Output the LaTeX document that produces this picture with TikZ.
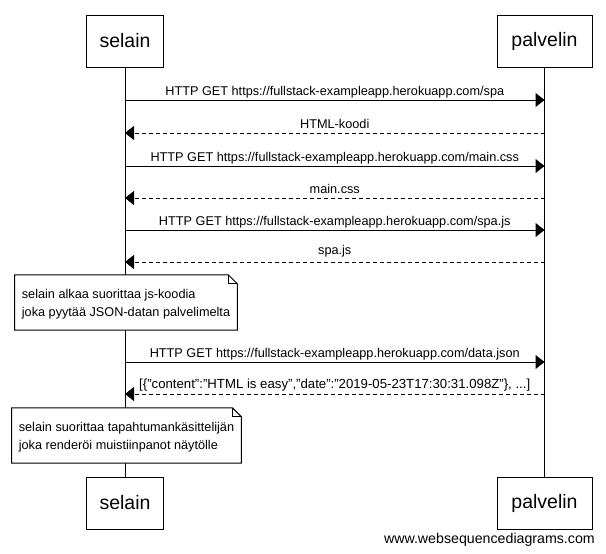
\documentclass[tikz,border=0pt]{standalone}
\usepackage{fontspec}
\setmainfont{Liberation Sans}
\usetikzlibrary{arrows.meta}

\tikzset{
  actor/.style={draw, line width=1pt, fill=white, minimum width=77pt, minimum height=52pt,
    font=\fontsize{19.5}{21}\selectfont},
  msg/.style={line width=1pt, -{Triangle[length=9pt,width=14pt]}},
  reply/.style={msg, dash pattern=on 4pt off 3pt},
  lbl/.style={font=\fontsize{12.7}{14}\selectfont, inner sep=1pt},
  notebox/.style={align=left, font=\fontsize{12.7}{18}\selectfont, inner xsep=7pt,
    minimum height=55pt, text depth=0pt},
  fold/.style={draw, line width=1pt, fill=white}
}

\begin{document}
\begin{tikzpicture}[x=1pt,y=-1pt]
    \useasboundingbox (0,0) rectangle (606,554);
    %% Draw the participants
    \node[actor] (S) at (125,41) {selain};
    \node[actor, minimum width=95pt] (P) at (544.5,41) {palvelin};
    \node[actor] (Sb) at (125,503) {selain};
    \node[actor, minimum width=95pt] (Pb) at (544.5,503) {palvelin};
    %% Draw the lifelines
    \draw[line width=1pt] (S) -- (Sb);
    \draw[line width=1pt] (P) -- (Pb);
    %% Draw the messages
    \begin{scope}[every node/.style={lbl}]
      \draw[msg] (S.south |- 0,100) -- node[above=0.5pt] {HTTP GET https://fullstack-exampleapp.herokuapp.com/spa} (P.south |- 0,100);
      \draw[reply] (P.south |- 0,133) -- node[above=3pt] {HTML-koodi} (S.south |- 0,133);
      \draw[msg] (S.south |- 0,166) -- node[above=0.5pt] {HTTP GET https://fullstack-exampleapp.herokuapp.com/main.css} (P.south |- 0,166);
      \draw[reply] (P.south |- 0,198) -- node[above=3pt] {main.css} (S.south |- 0,198);
      \draw[msg] (S.south |- 0,230) -- node[above=0.5pt] {HTTP GET https://fullstack-exampleapp.herokuapp.com/spa.js} (P.south |- 0,230);
      \draw[reply] (P.south |- 0,262) -- node[above=3pt] {spa.js} (S.south |- 0,262);
      \draw[msg] (S.south |- 0,362) -- node[above=0.5pt] {HTTP GET https://fullstack-exampleapp.herokuapp.com/data.json} (P.south |- 0,362);
      \draw[reply] (P.south |- 0,394) -- node[above=1.5pt, font=\fontsize{13.2}{14}\selectfont] {[\{"content":"HTML is easy","date":"2019-05-23T17:30:31.098Z"\}, ...]} (S.south |- 0,394);
    \end{scope}
    %% Draw the notes
    \node[notebox] (N1) at (126,302.5) {selain alkaa suorittaa js-koodia\\joka pyytää JSON-datan palvelimelta};
    \draw[fold] (N1.north west) -- ([xshift=-9pt]N1.north east) -- ([yshift=-9pt]N1.north east)
      -- (N1.south east) -- (N1.south west) -- cycle;
    \draw[line width=1pt] ([xshift=-9pt]N1.north east) |- ([yshift=-9pt]N1.north east);
    \node[notebox] at (N1) {selain alkaa suorittaa js-koodia\\joka pyytää JSON-datan palvelimelta};
    \node[notebox] (N2) at (126.5,435.5) {selain suorittaa tapahtumankäsittelijän\\joka renderöi muistiinpanot näytölle};
    \draw[fold] (N2.north west) -- ([xshift=-9pt]N2.north east) -- ([yshift=-9pt]N2.north east)
      -- (N2.south east) -- (N2.south west) -- cycle;
    \draw[line width=1pt] ([xshift=-9pt]N2.north east) |- ([yshift=-9pt]N2.north east);
    \node[notebox] at (N2) {selain suorittaa tapahtumankäsittelijän\\joka renderöi muistiinpanot näytölle};
    %% Watermark
    \node[anchor=east, font=\fontsize{14.2}{16}\selectfont, inner sep=0pt] (W) at (595,540) {www.websequencediagrams.com};
\end{tikzpicture}
\end{document}
